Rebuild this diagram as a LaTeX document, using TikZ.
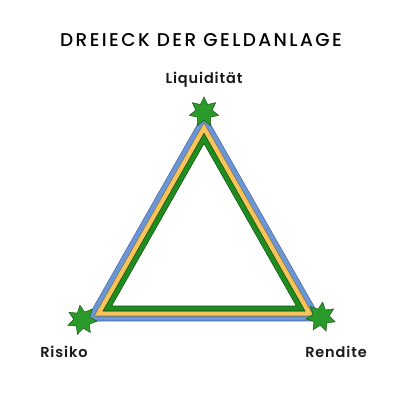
\documentclass[tikz,border=0pt]{standalone}
\usepackage{fontspec}
\setmainfont{Poppins}
\newfontfamily\medfont[LetterSpace=13]{Poppins Medium}
\newfontfamily\semifont[LetterSpace=6]{Poppins SemiBold}
\usetikzlibrary{shapes.geometric,calc}

\definecolor{bandblue}{HTML}{6A95D6}
\definecolor{bandblueedge}{HTML}{3C5E96}
\definecolor{bandyellow}{HTML}{F8C35A}
\definecolor{bandyellowedge}{HTML}{9A7A2E}
\definecolor{bandgreen}{HTML}{1F8C1F}
\definecolor{bandgreenedge}{HTML}{0E4A0E}
\definecolor{stargreen}{HTML}{2A9A2A}
\definecolor{staredge}{HTML}{165A16}

\tikzset{
  band/.style={line width=0.6pt, double distance=4.4pt, line join=miter},
  cornerstar/.style={star, star points=7, star point ratio=1.8, minimum size=30pt,
    inner sep=0pt, fill=stargreen, draw=staredge, line width=0.5pt},
  cornerlabel/.style={font=\semifont\fontsize{14.5}{17}\selectfont, text=black!90},
}

\begin{document}
\begin{tikzpicture}[x=1pt, y=-1pt]
  \useasboundingbox (0,0) rectangle (400,400);

  % Title
  \node (title) at (201,40) {\medfont\fontsize{18.5}{22}\selectfont DREIECK DER GELDANLAGE};

  % Outer corners of the blue band and the centre of the triangle
  \coordinate (top) at (204,118);
  \coordinate (left) at (90,318.5);
  \coordinate (right) at (318,318.5);
  \coordinate (mid) at (204,252.7);

  % Three nested bands: blue, yellow, green
  \foreach \f/\c in {1/blue, 0.924/yellow, 0.848/green} {
    \draw[band, draw=band\c edge, double=band\c]
      ($(mid)!\f!(top)$) -- ($(mid)!\f!(left)$) -- ($(mid)!\f!(right)$) -- cycle;
  }

  % Stars on the corners
  \node[cornerstar] (liq) at (204,112) {};
  \node[cornerstar, rotate=8] (ris) at (82,320) {};
  \node[cornerstar, rotate=-6] (ren) at (321,317) {};

  % Labels
  \node[cornerlabel] (liqlabel) at (204,80) {Liquidität};
  \node[cornerlabel] (rislabel) at (64,352) {Risiko};
  \node[cornerlabel] (renlabel) at (336,352) {Rendite};
\end{tikzpicture}
\end{document}
